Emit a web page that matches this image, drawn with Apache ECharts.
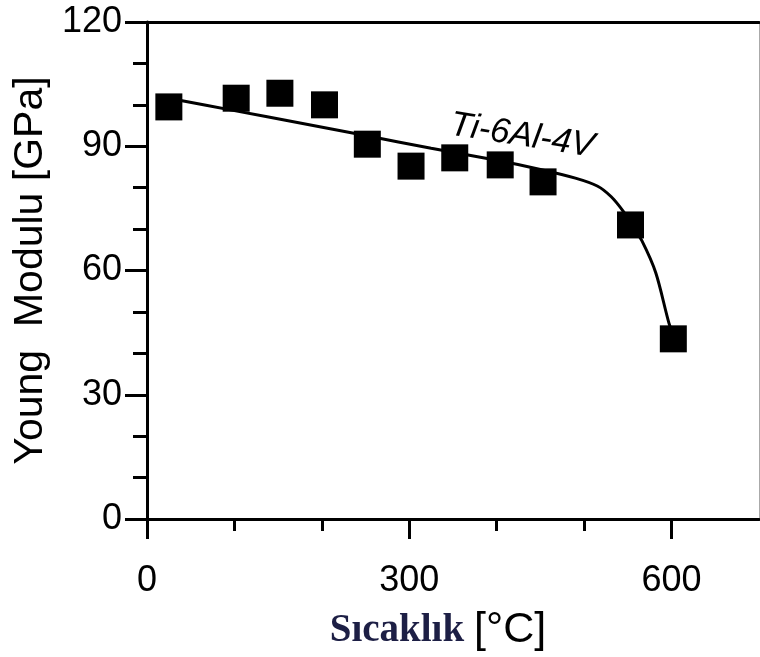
<!DOCTYPE html>
<html><head><meta charset="utf-8">
<script src="https://cdn.jsdelivr.net/npm/echarts@6/dist/echarts.min.js"></script>
<style>html,body{margin:0;padding:0;background:#fff}#c{width:760px;height:657px}</style>
</head><body><div id="c"></div>
<script>
// measured points
const tempC = [25, 102, 152, 203, 252, 302, 352, 404, 453, 553, 602];
const modulus = [99.5, 101.6, 102.8, 100, 90.5, 85.2, 87.2, 85.5, 81.4, 71, 43.5];
// fitted curve
const fitTemp = [25, 100, 175, 250, 325, 400, 450, 490, 515, 531, 545, 555, 566, 582, 597, 603];
const fitModulus = [101.6, 98.6, 95.6, 92.6, 89.5, 86.6, 84.4, 82.3, 80.4, 77.8, 74.2, 70.8, 67.2, 59.4, 47.3, 44];
// annotation
const labelText = 'Ti-6Al-4V';
const labelTemp = 429;
const labelMod = 92.5;
// axes
const xMajorTicks = [0, 300, 600];
const xMinorTicks = [100, 200, 400, 500];
const xMin = 0, xMax = 700;
const yMin = 0, yMax = 120, yStep = 30;

const sans = '"Liberation Sans", Arial, sans-serif';
const chart = echarts.init(document.getElementById('c'), null, {renderer: 'canvas'});
const G = {left: 147, right: 1, top: 22, bottom: 138};
chart.setOption({
  animation: false,
  backgroundColor: '#fff',
  grid: [Object.assign({}, G), Object.assign({}, G)],
  xAxis: [
    {
      type: 'value', gridIndex: 0, position: 'bottom', min: xMin, max: xMax, interval: 100,
      axisLine: {onZero: false, lineStyle: {color: '#000', width: 3}},
      axisTick: {length: 12, customValues: xMinorTicks, lineStyle: {color: '#000', width: 3}},
      splitLine: {show: false},
      axisLabel: {
        margin: 44, color: '#000', fontFamily: sans, fontSize: 36,
        customValues: xMajorTicks
      },
      name: '{a|Sıcaklık} {b|[°C]}', nameLocation: 'middle', nameGap: 90,
      nameTextStyle: {
        fontFamily: sans, fontSize: 36,
        padding: [0, 30, 0, 0],
        rich: {
          a: {fontFamily: '"Liberation Serif", "Times New Roman", serif', fontWeight: 'bold', fontSize: 39, color: '#1d1f45'},
          b: {fontFamily: sans, fontSize: 43, color: '#000'}
        }
      }
    },
    {
      type: 'value', gridIndex: 0, position: 'top', min: xMin, max: xMax,
      axisLine: {show: true, onZero: false, lineStyle: {color: '#000', width: 3}},
      axisTick: {show: false}, axisLabel: {show: false}, splitLine: {show: false}
    },
    {
      type: 'value', gridIndex: 1, position: 'bottom', min: xMin, max: xMax, interval: 300,
      axisLine: {show: false, onZero: false},
      axisTick: {show: true, length: 20, customValues: xMajorTicks, lineStyle: {color: '#000', width: 3}},
      axisLabel: {show: false}, splitLine: {show: false}
    }
  ],
  yAxis: [
    {
      type: 'value', gridIndex: 0, position: 'left', min: yMin, max: yMax, interval: yStep,
      axisLine: {show: true, onZero: false, lineStyle: {color: '#000', width: 3}},
      axisTick: {show: true, length: 22, lineStyle: {color: '#000', width: 3}},
      minorTick: {show: true, splitNumber: 3, length: 14, lineStyle: {color: '#000', width: 3}},
      splitLine: {show: false},
      axisLabel: {margin: 25, color: '#000', fontFamily: sans, fontSize: 36},
      name: 'Young  Modulu [GPa]', nameLocation: 'middle', nameGap: 78,
      nameTextStyle: {fontFamily: sans, fontSize: 41, color: '#000'}
    },
    {
      type: 'value', gridIndex: 0, position: 'right', min: yMin, max: yMax,
      axisLine: {show: true, onZero: false, lineStyle: {color: '#aaa', width: 1}},
      axisTick: {show: false}, axisLabel: {show: false}, splitLine: {show: false}
    },
    {
      type: 'value', gridIndex: 1, min: yMin, max: yMax,
      axisLine: {show: false, onZero: false}, axisTick: {show: false},
      axisLabel: {show: false}, splitLine: {show: false}
    }
  ],
  series: [
    {
      type: 'line', xAxisIndex: 0, yAxisIndex: 0, smooth: 0.3, symbol: 'none',
      lineStyle: {color: '#000', width: 3},
      data: fitTemp.map((t, i) => [t, fitModulus[i]]), z: 2
    },
    {
      type: 'scatter', xAxisIndex: 0, yAxisIndex: 0, symbol: 'rect', symbolSize: 27,
      itemStyle: {color: '#000', opacity: 1},
      data: tempC.map((t, i) => [t, modulus[i]]), z: 3
    },
    {
      type: 'scatter', xAxisIndex: 0, yAxisIndex: 0, symbolSize: 0, silent: true,
      itemStyle: {opacity: 1},
      data: [[labelTemp, labelMod]],
      label: {
        show: true, position: 'inside', formatter: labelText, rotate: -9,
        fontFamily: sans, fontStyle: 'italic', fontSize: 35, color: '#000'
      }, z: 4
    }
  ]
});
</script></body></html>
